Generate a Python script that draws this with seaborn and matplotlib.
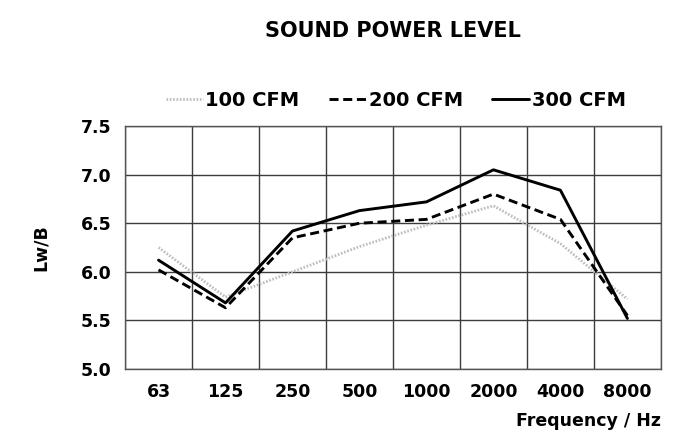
import matplotlib
matplotlib.use("Agg")
import matplotlib.pyplot as plt
import seaborn as sns
import pandas as pd
import numpy as np

categories = ["63", "125", "250", "500", "1000", "2000", "4000", "8000"]
cfm100 = [6.25, 5.74, 6.00, 6.26, 6.48, 6.68, 6.29, 5.72]
cfm200 = [6.02, 5.63, 6.35, 6.50, 6.54, 6.80, 6.54, 5.55]
cfm300 = [6.12, 5.68, 6.42, 6.63, 6.72, 7.05, 6.84, 5.52]
series_names = ["100 CFM", "200 CFM", "300 CFM"]
y_ticks = [5.0, 5.5, 6.0, 6.5, 7.0, 7.5]

sns.set_style("white")
plt.rcParams["font.family"] = ["DejaVu Sans"]
plt.rcParams["font.weight"] = "bold"
plt.rcParams["text.color"] = "black"
plt.rcParams["axes.labelcolor"] = "black"
plt.rcParams["xtick.color"] = "black"
plt.rcParams["ytick.color"] = "black"

fig = plt.figure(figsize=(6.87, 4.44), dpi=100)
ax = fig.add_axes([0.182, 0.169, 0.780, 0.547])

pos = np.arange(len(categories)) + 0.5
styles = [
    dict(color="#bdbdbd", linestyle=(0, (0.6, 0.6)), linewidth=2.0),
    dict(color="black", linestyle=(0, (3.1, 1.6)), linewidth=2.1),
    dict(color="black", linestyle="-", linewidth=2.1),
]
for name, vals, st in zip(series_names, [cfm100, cfm200, cfm300], styles):
    df = pd.DataFrame({"x": pos, "y": vals})
    sns.lineplot(data=df, x="x", y="y", ax=ax, label=name, **st)

ax.set_xlim(0, len(categories))
ax.set_ylim(5.0, 7.5)
ax.set_xticks(pos)
ax.set_xticklabels(categories)
ax.set_xticks(np.arange(len(categories) + 1), minor=True)
ax.set_yticks(y_ticks)
ax.set_yticklabels([f"{v:.1f}" for v in y_ticks])
ax.grid(False)
ax.grid(True, which="minor", axis="x", color="#3c3c3c", linewidth=1.0)
ax.grid(True, which="major", axis="y", color="#3c3c3c", linewidth=1.0)
ax.tick_params(axis="both", which="both", length=0, labelsize=12.5, pad=10)
for lab in ax.get_xticklabels() + ax.get_yticklabels():
    lab.set_fontweight("bold")
for s in ax.spines.values():
    s.set_color("#555555")
    s.set_linewidth(1.0)

ax.set_xlabel("Frequency / Hz", fontsize=12.5, fontweight="bold", loc="right", labelpad=8)
ax.set_ylabel("Lw/B", fontsize=12.5, fontweight="bold", labelpad=22)

leg = ax.legend(loc="center", bbox_to_anchor=(0.505, 1.107), ncol=3, frameon=False,
                fontsize=14, handlelength=1.9, handletextpad=0.15, columnspacing=1.5)
for t in leg.get_texts():
    t.set_fontweight("bold")

fig.text(0.572, 0.93, "SOUND POWER LEVEL", ha="center", va="center", fontsize=15, fontweight="bold")

fig.savefig("out.png", dpi=100)
